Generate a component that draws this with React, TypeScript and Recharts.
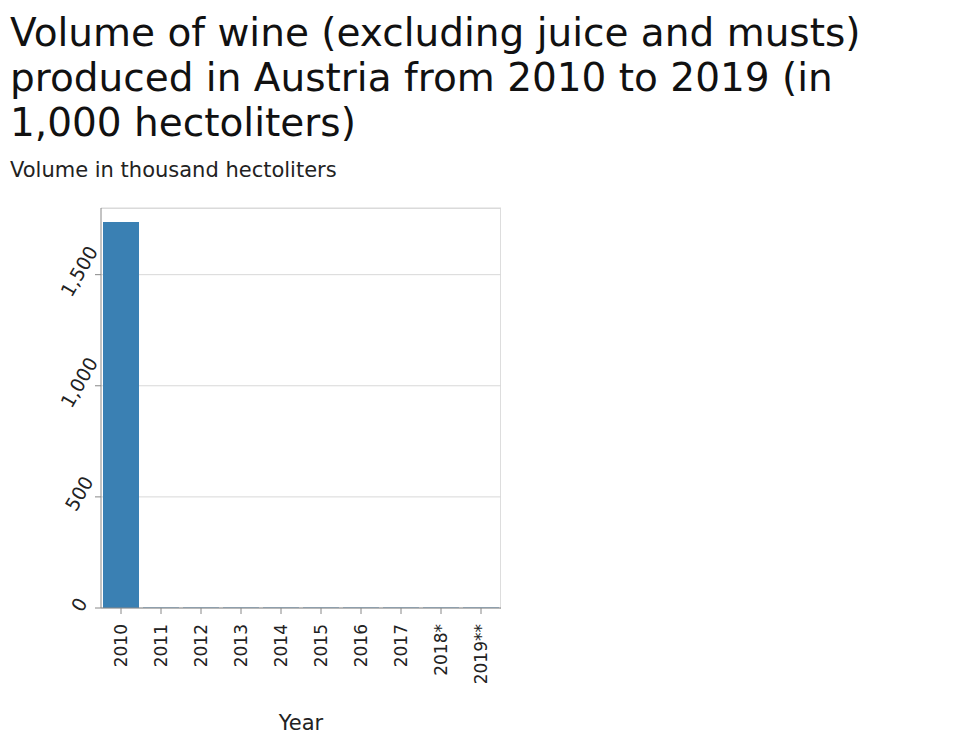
import React from 'react';
import { BarChart, Bar, XAxis, YAxis, CartesianGrid } from 'recharts';

const years = ['2010', '2011', '2012', '2013', '2014', '2015', '2016', '2017', '2018*', '2019**'];
const volumes = [1737, 2.1, 2.5, 2.4, 2.0, 2.3, 1.9, 2.5, 2.8, 2.5];
const yTicks = [0, 500, 1000, 1500];

const data = years.map((y, i) => ({ year: y, v: volumes[i] }));
const font = '"DejaVu Sans", sans-serif';

const YTick = (p: any) => {
  const { x, y, payload } = p;
  return (
    <text x={x - 8} y={y} transform={`rotate(-60 ${x - 8} ${y})`} textAnchor="middle" dy={0} fontSize={19} fontFamily={font} fill="#222">
      {payload.value.toLocaleString('en-US')}
    </text>
  );
};
const XTick = (p: any) => {
  const { x, y, payload } = p;
  return (
    <text x={x} y={y + 8} transform={`rotate(-90 ${x} ${y + 8})`} textAnchor="end" dy={6} fontSize={17} fontFamily={font} fill="#222">
      {payload.value}
    </text>
  );
};

export default function App() {
  return (
    <div style={{ position: 'absolute', left: 0, top: 0, width: 978, height: 746, background: '#fff', fontFamily: font }}>
      <div style={{ position: 'absolute', left: 10, top: 10, fontSize: 39, lineHeight: '45px', color: '#111', whiteSpace: 'nowrap' }}>
        Volume of wine (excluding juice and musts)<br />produced in Austria from 2010 to 2019 (in<br />1,000 hectoliters)
      </div>
      <div style={{ position: 'absolute', left: 10, top: 158, fontSize: 21, color: '#222' }}>Volume in thousand hectoliters</div>
      <div style={{ position: 'absolute', left: 101, top: 208, width: 399, height: 400, borderTop: '1px solid #ddd', borderRight: '1px solid #ddd' }} />
      <BarChart width={978} height={746} data={data} margin={{ top: 208, right: 477, left: 0, bottom: 38 }} barCategoryGap={2}>
        <CartesianGrid vertical={false} stroke="#d8d8d8" />
        <XAxis dataKey="year" height={100} tick={<XTick />} tickLine={{ stroke: '#888' }} axisLine={{ stroke: '#888' }} interval={0}
          label={{ value: 'Year', position: 'insideBottom', offset: -22, fontSize: 21, fill: '#222', fontFamily: font }} />
        <YAxis width={101} domain={[0, 1800]} ticks={yTicks} tick={<YTick />} tickLine={{ stroke: '#888' }} axisLine={{ stroke: '#888' }} />
        <Bar dataKey="v" fill="#3a80b3" isAnimationActive={false} />
      </BarChart>
    </div>
  );
}
